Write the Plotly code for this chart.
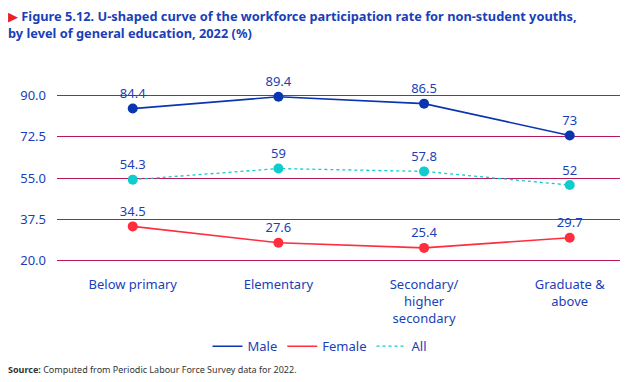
import plotly.graph_objects as go

categories = ["Below primary", "Elementary", "Secondary/<br>higher<br>secondary", "Graduate &<br>above"]
male = [84.4, 89.4, 86.5, 73]
female = [34.5, 27.6, 25.4, 29.7]
all_ = [54.3, 59, 57.8, 52]
male_labels = ["84.4", "89.4", "86.5", "73"]
female_labels = ["34.5", "27.6", "25.4", "29.7"]
all_labels = ["54.3", "59", "57.8", "52"]
y_ticks = [20.0, 37.5, 55.0, 72.5, 90.0]

BLUE_TXT = "#1a3fb8"
xs = list(range(len(categories)))

fig = go.Figure()
def add(name, vals, labels, color, dash, width):
    fig.add_trace(go.Scatter(
        x=xs, y=vals, name=name, mode="lines+markers+text", showlegend=False,
        line=dict(color=color, width=width, dash=dash),
        marker=dict(color=color, size=10),
        text=labels, textposition="top center",
        textfont=dict(color=BLUE_TXT, size=13, family="Noto Sans"),
        cliponaxis=False,
    ))
    fig.add_trace(go.Scatter(
        x=[None], y=[None], name=name, mode="lines",
        line=dict(color=color, width=width, dash=dash),
    ))

add("Male", male, male_labels, "#0a35b0", "solid", 1.6)
add("Female", female, female_labels, "#ff2d3d", "solid", 1.6)
add("All", all_, all_labels, "#10cccc", "dot", 1.3)

# page body adds an 8px offset, so the figure is 8px smaller than the window
W, H = 620, 374
L, T = 49, 84.63
B = 118.63
PH = H - T - B

def py(win_y):
    return (H - B - (win_y - 8)) / PH

def px(win_x):
    return (win_x - 8 - L) / (W - L)

fig.update_layout(
    width=W, height=H,
    margin=dict(l=L, r=0, t=T, b=B, autoexpand=False),
    paper_bgcolor="white", plot_bgcolor="white",
    font=dict(family="Noto Sans", color=BLUE_TXT),
    showlegend=True,
    legend=dict(orientation="h", x=px(320), xanchor="center", y=py(347), yanchor="middle",
                font=dict(size=13, color=BLUE_TXT), traceorder="normal",
                itemwidth=30, tracegroupgap=0),
    xaxis=dict(tickmode="array", tickvals=xs, ticktext=categories, range=[-0.52, 3.4],
               showgrid=False, zeroline=False, showline=False,
               tickfont=dict(size=13, color=BLUE_TXT), ticklabelstandoff=12),
    yaxis=dict(range=[19, 91], tickmode="array", tickvals=y_ticks,
               ticktext=[f"{v:.1f}" for v in y_ticks],
               showgrid=True, gridcolor="#b8185a", gridwidth=1.3, zeroline=False,
               showline=False, tickfont=dict(size=13, color=BLUE_TXT), ticklabelstandoff=10),
    annotations=[
        dict(text="<span style='color:#e8202a'>▶</span> <b>Figure 5.12. U-shaped curve of the workforce participation rate for non-student youths,</b><br><b>by level of general education, 2022 (%)</b>",
             xref="paper", yref="paper", x=px(7), y=py(24), xanchor="left", yanchor="middle",
             borderpad=0,
             showarrow=False, align="left", font=dict(size=12.8, color="#1a3fb8", family="Noto Sans")),
        dict(text="<b>Source:</b> Computed from Periodic Labour Force Survey data for 2022.",
             xref="paper", yref="paper", x=px(7), y=py(370), xanchor="left", yanchor="middle",
             borderpad=0,
             showarrow=False, align="left", font=dict(size=9, color="#333333", family="Noto Sans")),
    ],
)

fig.write_html("out.html")
